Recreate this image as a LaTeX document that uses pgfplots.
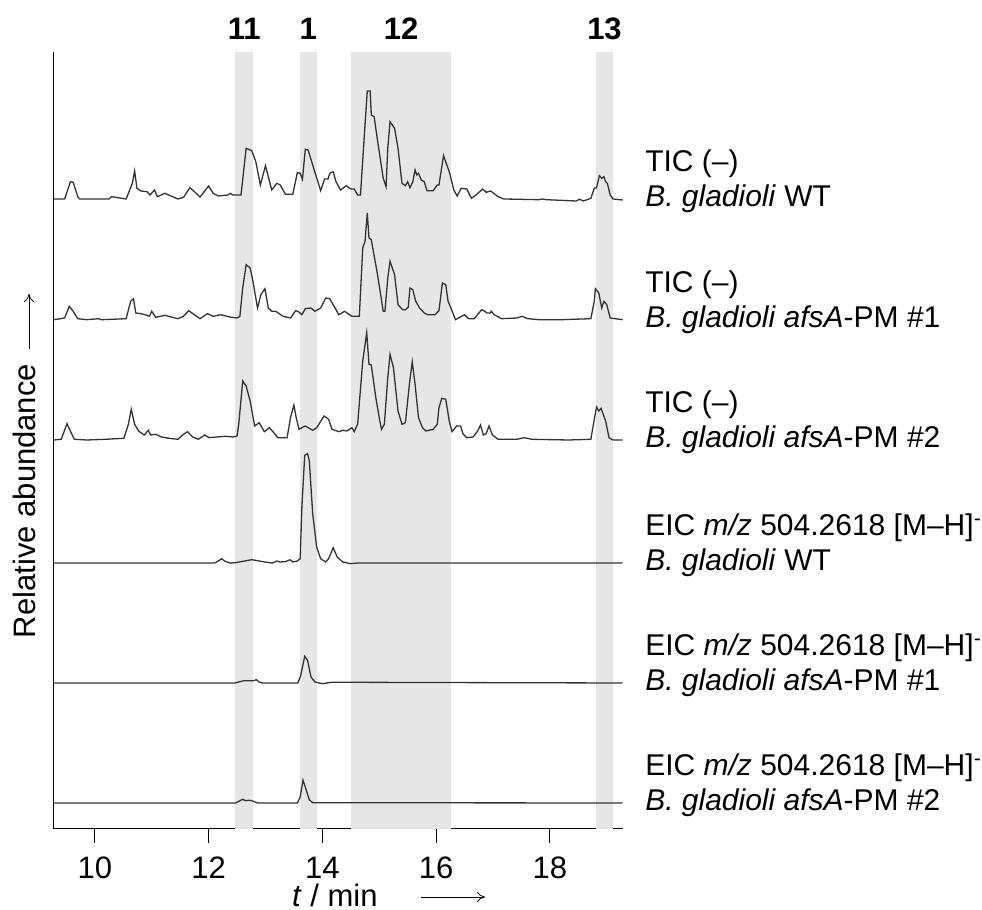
\documentclass[border=0pt]{standalone}
\usepackage{fontspec}
\setmainfont{Liberation Sans}
\usepackage{pgfplots}
\pgfplotsset{compat=1.18}
\usetikzlibrary{arrows.meta}
\definecolor{bandgray}{HTML}{E6E6E6}
\definecolor{trace}{HTML}{333333}

\newcommand{\eic}{EIC \textit{m/z} 504.2618 [M--H]\textsuperscript{-}}

\begin{document}
\begin{tikzpicture}[font=\fontsize{15.5}{18}\selectfont,
    lab/.style={anchor=base west, inner sep=0pt, font=\fontsize{15}{18}\selectfont},
    cmp/.style={anchor=base, font=\fontsize{15.5}{18}\selectfont\bfseries}]
\useasboundingbox (0,0) rectangle (491pt,455pt);
\begin{axis}[
    at={(26.65pt,40.5pt)}, anchor=south west,
    scale only axis,
    width=284.7pt, height=388.5pt,
    xmin=9.27, xmax=19.28,
    ymin=0, ymax=777,
    axis x line*=bottom, axis y line*=left,
    axis line style={line width=0.5pt, -},
    xtick={10,12,...,18}, ytick=\empty,
    tick align=outside, major tick length=7pt,
    xtick style={line width=0.5pt, black},
    xticklabel style={inner sep=1pt, yshift=-5.8pt},
    /pgf/number format/assume math mode=true,
    clip=false,
    every axis plot/.append style={trace, line width=0.65pt, mark=none},
]
% highlighted retention windows
\addplot[fill=bandgray, draw=none] coordinates {(12.47,0) (12.47,777) (12.78,777) (12.78,0)} -- cycle;
\addplot[fill=bandgray, draw=none] coordinates {(13.60,0) (13.60,777) (13.90,777) (13.90,0)} -- cycle;
\addplot[fill=bandgray, draw=none] coordinates {(14.50,0) (14.50,777) (16.27,777) (16.27,0)} -- cycle;
\addplot[fill=bandgray, draw=none] coordinates {(18.81,0) (18.81,777) (19.11,777) (19.11,0)} -- cycle;

% TIC (-) B. gladioli WT
\addplot[y filter/.expression={y+630}] coordinates {
(9.28,0)(9.47,0)(9.57,17.3)(9.62,16.7)(9.70,2.3)(9.73,0)(10.25,0)(10.29,2.3)(10.55,0)(10.66,15.7)(10.70,28)(10.74,10.7)(10.81,8)(10.92,7.3)(10.97,4)(11.05,9)(11.10,2.3)(11.23,5.7)(11.46,0)(11.56,1.7)(11.67,11.3)(11.75,7.3)(11.85,2)(12.00,13)(12.08,5.7)(12.17,3)(12.34,4)(12.38,5.7)(12.43,4)(12.57,4)(12.66,50.7)(12.76,48.3)(12.83,37.3)(12.91,14)(13.00,33.3)(13.11,9)(13.20,15.7)(13.26,14)(13.35,4.7)(13.48,4.7)(13.56,26.3)(13.61,25.7)(13.65,19.7)(13.70,49.7)(13.75,49)(13.83,34)(13.97,8.3)(14.04,20)(14.10,20)(14.13,25.7)(14.19,27.3)(14.24,17.3)(14.32,9)(14.42,13.3)(14.50,10)(14.56,10)(14.62,4)(14.67,4)(14.75,74)(14.79,108)(14.84,108)(14.86,84)(14.91,82.3)(14.99,50.7)(15.07,20.7)(15.12,12.3)(15.15,50.7)(15.19,77.3)(15.27,70.7)(15.33,50.7)(15.40,15.7)(15.46,13.3)(15.50,17.3)(15.54,11.3)(15.59,17.3)(15.63,29)(15.66,24)(15.69,25.7)(15.74,19)(15.79,17.3)(15.84,8.3)(15.95,8.3)(16.02,14)(16.05,14)(16.13,43.3)(16.24,25.7)(16.31,9)(16.37,3)(16.44,10.7)(16.54,10)(16.62,0.7)(16.70,4)(16.82,10)(16.88,6.7)(16.96,8)(17.09,2.3)(17.19,0)(17.81,-0.7)(17.87,0)(17.94,-0.7)(18.46,-2)(18.52,-0.3)(18.59,-2)(18.72,0.7)(18.78,10.7)(18.82,11.3)(18.87,23.3)(18.91,20.7)(18.95,22.3)(18.98,17.3)(19.01,15.7)(19.06,4)(19.11,0)(19.28,-1)
};

% TIC (-) afsA-PM #1
\addplot[y filter/.expression={y+509}] coordinates {
(9.28,0.3)(9.47,2)(9.55,13.7)(9.62,8.7)(9.70,1.3)(9.86,0.3)(10.06,1.3)(10.12,0.3)(10.55,1.3)(10.63,18.7)(10.68,21.3)(10.72,7)(10.81,6.3)(10.92,4.7)(10.96,3.7)(11.00,8.7)(11.07,2.7)(11.23,4.7)(11.46,1.3)(11.56,3.7)(11.65,9.3)(11.75,5.3)(11.85,1.3)(11.98,6.3)(12.08,3.7)(12.21,5.3)(12.40,2.7)(12.50,2)(12.55,3.7)(12.60,32)(12.66,55.3)(12.73,52)(12.78,38.7)(12.86,12)(12.92,25.3)(12.99,31.3)(13.05,12)(13.11,8.7)(13.18,8.7)(13.31,3.7)(13.44,2)(13.53,9.3)(13.57,8.7)(13.64,5.3)(13.70,11.3)(13.80,12)(13.87,8.7)(13.97,12)(14.06,22)(14.13,21.3)(14.19,15.3)(14.29,5.3)(14.39,8.7)(14.52,3.7)(14.65,3.7)(14.71,72)(14.75,78.7)(14.79,107)(14.82,82)(14.86,80.3)(14.97,45.3)(15.07,8.7)(15.10,8.7)(15.15,42)(15.19,58.7)(15.27,45.3)(15.33,15.3)(15.41,10.3)(15.46,10.3)(15.51,12.7)(15.54,32)(15.59,30.3)(15.64,18.7)(15.71,12)(15.79,7)(15.85,5.3)(15.98,5.3)(16.05,9.3)(16.11,37)(16.17,35.3)(16.21,18.7)(16.26,12)(16.34,0.3)(16.50,5.3)(16.57,1.3)(16.67,1.3)(16.80,10.3)(16.86,8.7)(16.89,7)(16.95,7)(16.97,8.7)(17.02,5.3)(17.15,1.3)(17.42,2)(17.51,3.7)(17.61,1.3)(17.81,0.3)(18.20,0.3)(18.72,1.3)(18.78,18.7)(18.80,31.3)(18.86,27)(18.91,12)(18.95,18.7)(19.00,15.3)(19.06,2)(19.28,0.3)
};

% TIC (-) afsA-PM #2
\addplot[y filter/.expression={y+389}] coordinates {
(9.28,0)(9.41,0.7)(9.51,16.3)(9.57,9)(9.64,0.7)(9.86,0)(10.19,0.7)(10.51,1.7)(10.59,15.7)(10.64,30.7)(10.70,15.7)(10.77,9)(10.87,5)(10.94,9.7)(10.98,5)(11.07,5.7)(11.17,3)(11.30,1.7)(11.46,0.7)(11.56,5.7)(11.63,8.3)(11.72,3)(11.82,0.7)(11.93,5)(12.01,2.3)(12.14,3)(12.30,3.7)(12.43,3)(12.50,4)(12.53,15.7)(12.60,59)(12.66,54)(12.73,39)(12.81,14)(12.89,17.3)(12.98,8.3)(13.07,12.3)(13.12,9)(13.22,2.3)(13.38,2.3)(13.44,22.3)(13.50,35)(13.54,22.3)(13.59,10.7)(13.64,12.3)(13.70,14)(13.77,11.7)(13.83,9.7)(13.90,12.3)(14.03,24)(14.11,20.7)(14.17,10.7)(14.29,8.3)(14.36,9.7)(14.43,9)(14.52,12.3)(14.56,8.3)(14.62,15.7)(14.71,79)(14.78,107.3)(14.82,75.7)(14.86,75)(14.94,42.3)(15.01,19)(15.04,10.7)(15.09,15.7)(15.15,62.3)(15.19,85.7)(15.25,72.3)(15.33,29)(15.40,15.7)(15.46,17.3)(15.53,55.7)(15.58,78.3)(15.63,55.7)(15.69,22.3)(15.76,12.3)(15.82,9)(15.95,10.7)(16.02,15.7)(16.05,32.3)(16.10,41.7)(16.17,40.7)(16.23,19)(16.28,8.3)(16.36,14)(16.43,14)(16.47,6.3)(16.54,2.3)(16.65,3)(16.73,9)(16.78,15)(16.83,5)(16.88,6.3)(16.93,14)(16.99,5)(17.09,0.7)(17.42,0.7)(17.55,2.3)(17.68,0.7)(18.33,0)(18.72,0.7)(18.77,17.3)(18.82,33)(18.86,29)(18.90,31.7)(18.98,19)(19.04,2.3)(19.11,0)(19.28,0)
};

% EIC m/z 504.2618 WT
\addplot[y filter/.expression={y+266}] coordinates {
(9.28,0)(12.11,0)(12.17,2)(12.23,4.3)(12.28,2)(12.37,0)(12.47,0.3)(12.76,3.3)(12.99,1)(13.12,0)(13.20,2)(13.25,1)(13.35,1.3)(13.43,3.3)(13.48,1)(13.56,2)(13.61,4.3)(13.64,56)(13.69,107.7)(13.74,109.3)(13.77,102.7)(13.83,49.3)(13.90,16)(13.97,4.3)(14.06,1)(14.11,4.3)(14.19,15.3)(14.26,6)(14.36,1)(14.49,-0.7)(14.62,0)(19.28,0)
};

% EIC afsA-PM #1
\addplot[y filter/.expression={y+146}] coordinates {
(9.28,0)(12.47,0)(12.57,1.7)(12.63,2.3)(12.79,2.3)(12.84,3.3)(12.89,1)(12.94,0)(13.57,0)(13.62,7.7)(13.69,26.7)(13.74,22.7)(13.80,6)(13.87,1)(14.00,-0.7)(14.16,0.7)(14.42,0.7)(19.28,0)
};

% EIC afsA-PM #2
\addplot[y filter/.expression={y+26}] coordinates {
(9.28,0)(12.47,0)(12.53,1.7)(12.60,3.7)(12.65,2.3)(12.70,2.7)(12.76,2.3)(12.83,0.7)(12.86,0)(13.56,0)(13.61,6)(13.66,22.7)(13.70,16)(13.77,3.3)(13.83,0.3)(19.28,0)
};

% compound labels
\node[cmp] at (axis cs:12.625,789) {11};
\node[cmp] at (axis cs:13.75,789) {1};
\node[cmp] at (axis cs:15.385,789) {12};
\node[cmp] at (axis cs:18.96,789) {13};

% trace labels
\node[lab] at (axis cs:19.67,657) {TIC (--)};
\node[lab] at (axis cs:19.67,622) {\textit{B. gladioli} WT};
\node[lab] at (axis cs:19.67,536) {TIC (--)};
\node[lab] at (axis cs:19.67,501) {\textit{B. gladioli afsA}-PM \#1};
\node[lab] at (axis cs:19.67,416) {TIC (--)};
\node[lab] at (axis cs:19.67,381) {\textit{B. gladioli afsA}-PM \#2};
\node[lab] at (axis cs:19.67,293) {\eic};
\node[lab] at (axis cs:19.67,258) {\textit{B. gladioli} WT};
\node[lab] at (axis cs:19.67,173) {\eic};
\node[lab] at (axis cs:19.67,138) {\textit{B. gladioli afsA}-PM \#1};
\node[lab] at (axis cs:19.67,53) {\eic};
\node[lab] at (axis cs:19.67,18) {\textit{B. gladioli afsA}-PM \#2};

% x axis title
\node[anchor=base, inner sep=1pt] at (axis cs:14.22,-77.5) {\textit{t} / min};
\draw[-{To[length=4pt,width=5pt]}, line width=0.4pt] (axis cs:15.73,-68) -- (axis cs:16.86,-68);
\end{axis}
\node[rotate=90] at (12pt,204.5pt) {Relative abundance};
\draw[-{To[length=4pt,width=5pt]}, line width=0.4pt] (14.5pt,280.5pt) -- (14.5pt,308pt);
\end{tikzpicture}
\end{document}
